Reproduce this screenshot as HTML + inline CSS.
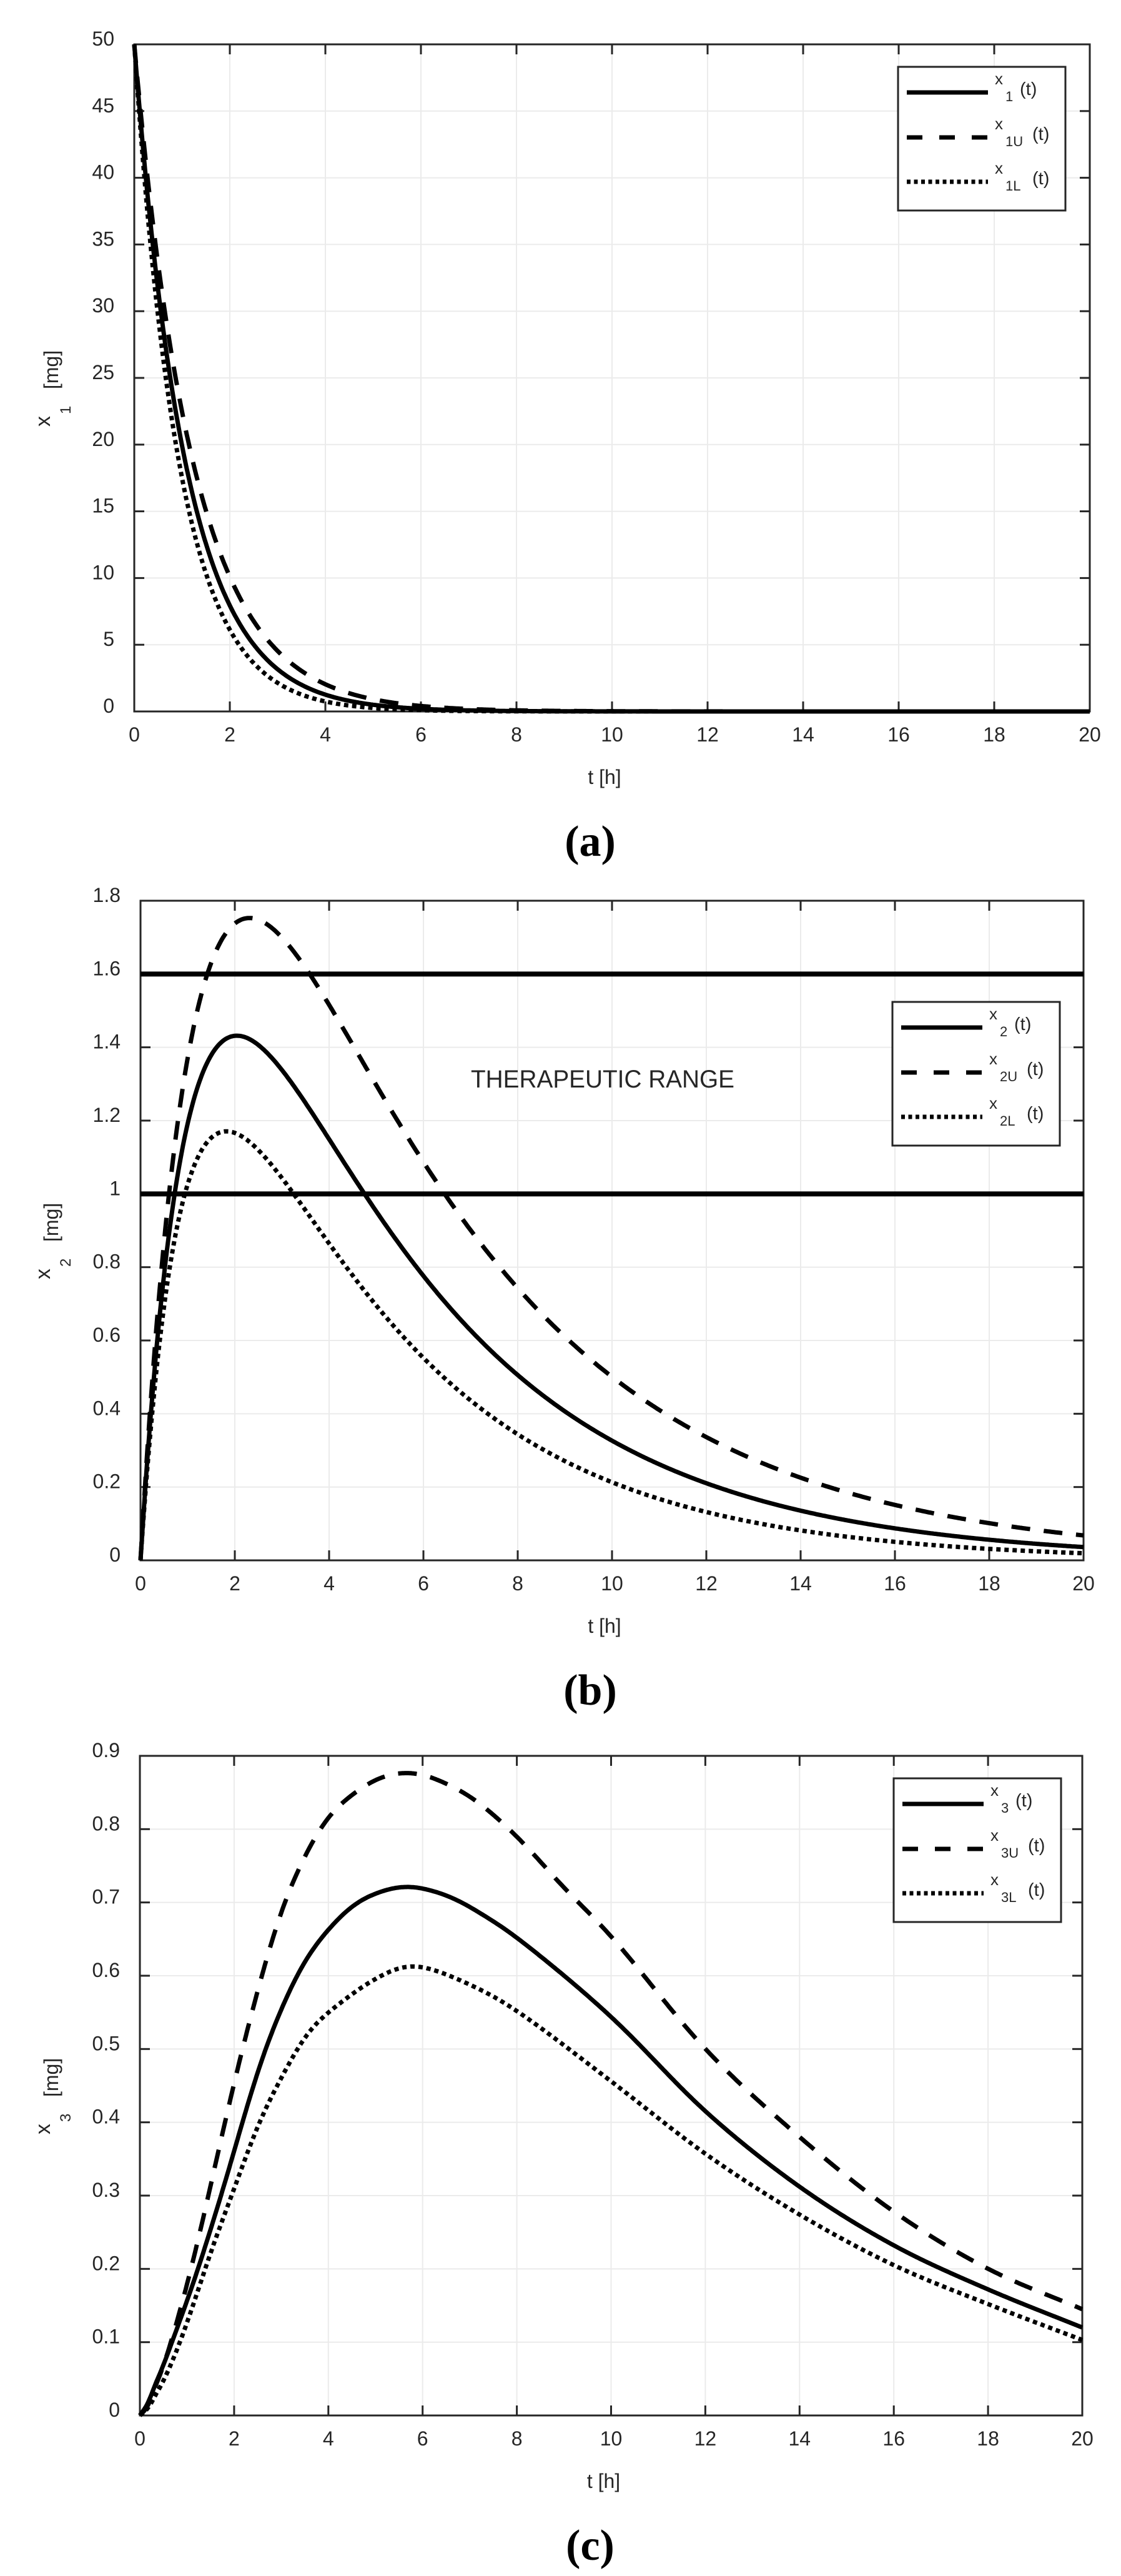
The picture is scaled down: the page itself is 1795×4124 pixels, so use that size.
<!DOCTYPE html>
<html><head><meta charset="utf-8"><style>
html,body{margin:0;padding:0;background:#fff;}
svg{display:block;}
text{font-family:"Liberation Sans",Arial,sans-serif;fill:#262626;}
</style></head><body>
<svg id="s" xmlns="http://www.w3.org/2000/svg" width="1795" height="4124" viewBox="0 0 1795 4124"></svg>
<script>
var S=document.getElementById('s'),out='';
function add(s){out+=s;}
function interp(pts,t){
  for(var i=0;i<pts.length-1;i++){ if(t<=pts[i+1][0]) break; }
  if(i>=pts.length-1)i=pts.length-2;
  var p0=pts[Math.max(i-1,0)],p1=pts[i],p2=pts[i+1],p3=pts[Math.min(i+2,pts.length-1)];
  var u=(t-p1[0])/(p2[0]-p1[0]);
  var m1=(p2[1]-p0[1])/(p2[0]-p0[0])*(p2[0]-p1[0]);
  var m2=(p3[1]-p1[1])/(p3[0]-p1[0])*(p2[0]-p1[0]);
  var u2=u*u,u3=u2*u;
  return (2*u3-3*u2+1)*p1[1]+(u3-2*u2+u)*m1+(-2*u3+3*u2)*p2[1]+(u3-u2)*m2;
}
function plot(c){
  var L=c.l,R=c.r,T=c.t,B=c.b,X=function(t){return L+(R-L)*t/20;},Y=function(v){return B-(B-T)*v/c.ymax;};
  for(var i=1;i<10;i++){var x=X(i*2);add('<line x1="'+x+'" y1="'+T+'" x2="'+x+'" y2="'+B+'" stroke="#ebebeb" stroke-width="2"/>');}
  for(var j=1;j<c.yt.length-1;j++){var y=Y(c.yt[j]);add('<line x1="'+L+'" y1="'+y+'" x2="'+R+'" y2="'+y+'" stroke="#ebebeb" stroke-width="2"/>');}
  for(i=1;i<10;i++){x=X(i*2);add('<line x1="'+x+'" y1="'+T+'" x2="'+x+'" y2="'+(T+16)+'" stroke="#262626" stroke-width="3"/><line x1="'+x+'" y1="'+B+'" x2="'+x+'" y2="'+(B-16)+'" stroke="#262626" stroke-width="3"/>');}
  for(j=1;j<c.yt.length-1;j++){y=Y(c.yt[j]);add('<line x1="'+L+'" y1="'+y+'" x2="'+(L+16)+'" y2="'+y+'" stroke="#262626" stroke-width="3"/><line x1="'+R+'" y1="'+y+'" x2="'+(R-16)+'" y2="'+y+'" stroke="#262626" stroke-width="3"/>');}
  add('<rect x="'+L+'" y="'+T+'" width="'+(R-L)+'" height="'+(B-T)+'" fill="none" stroke="#262626" stroke-width="3"/>');
  for(i=0;i<=10;i++){add('<text x="'+X(i*2)+'" y="'+(B+48)+'" font-size="32" text-anchor="middle">'+(i*2)+'</text>');}
  for(j=0;j<c.yt.length;j++){add('<text x="'+(L-32)+'" y="'+(Y(c.yt[j])+2)+'" font-size="32" text-anchor="end">'+c.ylab[j]+'</text>');}
  (c.h||[]).forEach(function(v){add('<line x1="'+L+'" y1="'+Y(v)+'" x2="'+R+'" y2="'+Y(v)+'" stroke="#000" stroke-width="8"/>');});
  var dashes=['', 'stroke-dasharray="30 22"', 'stroke-dasharray="7 6"'];
  var N=800;
  c.f.forEach(function(fn,k){
    var vals=[];for(var n=0;n<=N;n++){vals.push(fn(n*20/N));}
    if(c.smooth){
      var w=c.smooth,sm=[];
      for(n=0;n<=N;n++){
        var ww=Math.min(w,n,N-n),s=0,cnt=0;
        for(var q=-ww;q<=ww;q++){s+=vals[n+q];cnt++;}
        sm.push(s/cnt);
      }
      vals=sm;
    }
    var d='';for(n=0;n<=N;n++){d+=(n?'L':'M')+X(n*20/N).toFixed(1)+' '+Y(vals[n]).toFixed(1);}
    add('<path d="'+d+'" fill="none" stroke="#000" stroke-width="7" '+dashes[k]+'/>');
  });
  add('<text x="'+((L+R)/2-12)+'" y="'+(B+116)+'" font-size="32" text-anchor="middle">t [h]</text>');
  var cy=(T+B)/2;
  add('<text transform="translate(80,'+(cy+78)+') rotate(-90)" font-size="34">x</text>');
  add('<text transform="translate(113,'+(cy+58)+') rotate(-90)" font-size="24">'+c.sub+'</text>');
  add('<text transform="translate(93,'+(cy+18)+') rotate(-90)" font-size="32">[mg]</text>');
  add('<text x="945" y="'+(B+231)+'" font-size="70" font-weight="bold" text-anchor="middle" style="font-family:\'Liberation Serif\',serif;fill:#000">('+c.letter+')</text>');
  var lx=c.lg[0],ly=c.lg[1];
  add('<rect x="'+lx+'" y="'+ly+'" width="268" height="230" fill="#fff" stroke="#262626" stroke-width="3"/>');
  var offs=[41,113,184],subs=[c.sub,c.sub+'U',c.sub+'L'];
  for(k=0;k<3;k++){
    var yy=ly+offs[k];
    add('<line x1="'+(lx+14)+'" y1="'+yy+'" x2="'+(lx+144)+'" y2="'+yy+'" stroke="#000" stroke-width="7" '+(k==1?'stroke-dasharray="25 27"':k==2?'stroke-dasharray="6 5.5"':'')+'/>');
    add('<text x="'+(lx+155)+'" y="'+(yy-13)+'" font-size="26">x</text>');
    add('<text x="'+(lx+172)+'" y="'+(yy+14)+'" font-size="22">'+subs[k]+'</text>');
    add('<text x="'+(lx+(k==0?195:215))+'" y="'+(yy+4)+'" font-size="29">(t)</text>');
  }
  if(c.extra)add(c.extra);
}
function x2f(A,a,b){return function(t){return A*(Math.exp(-b*t)-Math.exp(-a*t));};}
function sp(p){return function(t){return Math.max(0,interp(p,t));};}
plot({l:215,r:1745,t:71,b:1139,ymax:50,yt:[0,5,10,15,20,25,30,35,40,45,50],ylab:['0','5','10','15','20','25','30','35','40','45','50'],
  f:[function(t){return 50*Math.exp(-0.92*t);},function(t){return 50*Math.exp(-0.8*t);},function(t){return 50*Math.exp(-1.05*t);}],
  sub:'1',letter:'a',lg:[1438,107]});
plot({l:225,r:1735,t:1442,b:2498,ymax:1.8,yt:[0,0.2,0.4,0.6,0.8,1,1.2,1.4,1.6,1.8],ylab:['0','0.2','0.4','0.6','0.8','1','1.2','1.4','1.6','1.8'],
  h:[1.6,1.0],
  f:[x2f(2.95,0.92,0.22),x2f(3.71,0.8,0.2),x2f(2.35,1.05,0.24)],
  sub:'2',letter:'b',lg:[1429,1604],
  extra:'<text x="965" y="1741" font-size="40" text-anchor="middle" textLength="422" lengthAdjust="spacingAndGlyphs">THERAPEUTIC RANGE</text>'});
plot({l:224,r:1733,t:2811,b:3867,ymax:0.9,yt:[0,0.1,0.2,0.3,0.4,0.5,0.6,0.7,0.8,0.9],ylab:['0','0.1','0.2','0.3','0.4','0.5','0.6','0.7','0.8','0.9'],
  smooth:14,
  f:[sp([[0,0],[0.25,0.025],[0.5,0.07],[1,0.155],[1.5,0.253],[2,0.36],[2.5,0.471],[3,0.555],[3.5,0.621],[4,0.663],[4.6,0.7],[5.6,0.722],[6.5,0.71],[7,0.694],[8,0.652],[10,0.544],[12,0.415],[14,0.312],[16,0.232],[18,0.172],[20,0.12]]),
     sp([[0,0],[0.25,0.02],[0.5,0.066],[1,0.176],[1.5,0.313],[2,0.455],[2.5,0.58],[3,0.69],[3.5,0.763],[4,0.818],[5,0.868],[5.6,0.877],[6,0.875],[7,0.845],[8,0.79],[9,0.72],[10,0.654],[12,0.5],[14,0.38],[16,0.278],[18,0.2],[20,0.145]]),
     sp([[0,0],[0.25,0.015],[0.5,0.045],[1,0.124],[1.5,0.224],[2,0.308],[2.5,0.397],[3,0.46],[3.5,0.518],[4,0.55],[5,0.596],[5.8,0.614],[7,0.588],[8,0.552],[10,0.456],[12,0.357],[14,0.274],[16,0.205],[18,0.152],[20,0.103]])],
  sub:'3',letter:'c',lg:[1431,2847]});
S.innerHTML=out;
</script>
</body></html>
